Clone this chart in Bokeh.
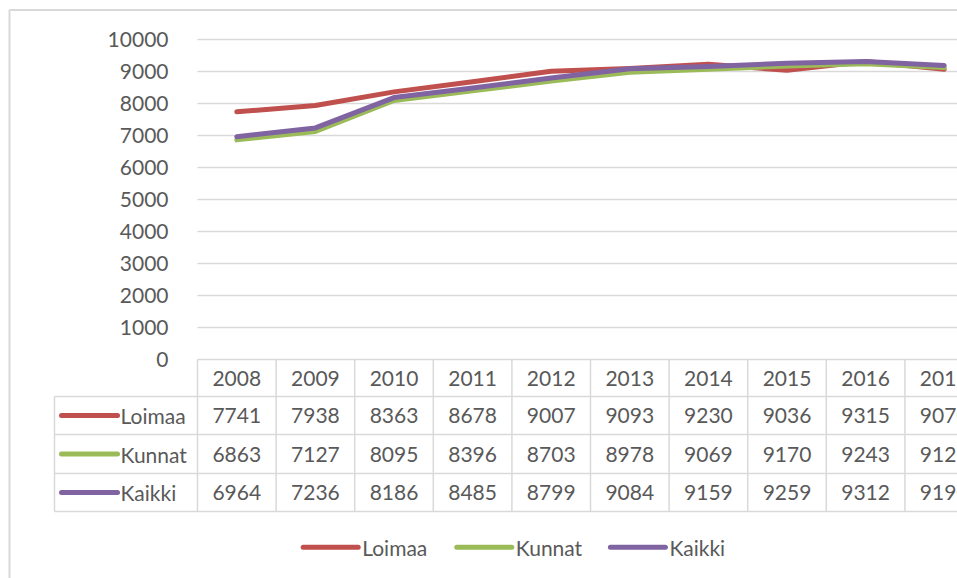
from bokeh.plotting import figure
from bokeh.models import Range1d, LinearAxis, FixedTicker, ColumnDataSource
from bokeh.core.properties import value
from bokeh.embed import file_html
from bokeh.resources import INLINE

# ---- data ----
years = [2008, 2009, 2010, 2011, 2012, 2013, 2014, 2015, 2016, 2017]
series_names = ["Loimaa", "Kunnat", "Kaikki"]
loimaa = [7741, 7938, 8363, 8678, 9007, 9093, 9230, 9036, 9315, 9070]
kunnat = [6863, 7127, 8095, 8396, 8703, 8978, 9069, 9170, 9243, 9121]
kaikki = [6964, 7236, 8186, 8485, 8799, 9084, 9159, 9259, 9312, 9190]
y_ticks = [0, 1000, 2000, 3000, 4000, 5000, 6000, 7000, 8000, 9000, 10000]
colors = ["#C0504D", "#9BBB59", "#8064A2"]
series_values = [loimaa, kunnat, kaikki]

# ---- layout constants (pixels, relative to figure top-left) ----
W, H = 957, 578
PX_PER_YEAR = 78.6
COL0_PX = 197            # left edge of the 2008 column
ZERO_PX = 359            # pixel row of value 0
PX_PER_UNIT = 0.032

x_start = (years[0] - 0.5) - COL0_PX / PX_PER_YEAR
x_end = x_start + W / PX_PER_YEAR
y_end = ZERO_PX / PX_PER_UNIT
y_start = -(H - ZERO_PX) / PX_PER_UNIT


def xpx(px):
    return x_start + px / PX_PER_YEAR


FONT = value("Lato")
FSIZE = "21px"
TCOL = "#595959"
GRID = "#d9d9d9"

p = figure(width=W, height=H, output_backend="svg", toolbar_location=None,
           x_range=Range1d(x_start, x_end), y_range=Range1d(y_start, y_end),
           x_axis_location=None, y_axis_location=None,
           min_border=0, min_border_left=0, min_border_right=0,
           min_border_top=0, min_border_bottom=0)
p.outline_line_color = None
p.background_fill_color = "white"
p.border_fill_color = "white"
for g in p.grid:
    g.visible = False
p.extra_y_ranges = {"tbl": Range1d(H, 0)}

col_left = years[0] - 0.5

# value axis
yax = LinearAxis(ticker=FixedTicker(ticks=y_ticks), fixed_location=col_left,
                 bounds=(y_ticks[0], y_ticks[-1]))
yax.axis_line_color = None
yax.major_tick_line_color = None
yax.minor_tick_line_color = None
yax.major_label_standoff = 23
yax.major_label_text_font = "Lato"
yax.major_label_text_font_size = FSIZE
yax.major_label_text_color = TCOL
p.add_layout(yax, "left")

# horizontal gridlines
p.segment(x0=[col_left] * len(y_ticks), x1=[x_end] * len(y_ticks),
          y0=y_ticks, y1=y_ticks, line_color=GRID, line_width=1.5)

# ---- table geometry ----
row_lines = [396, 434, 473, 511]          # horizontal lines below header/rows
header_top = ZERO_PX
row_centers = [415, 453.5, 492]
header_center = 377.5
label_col_left = xpx(54)

p.segment(x0=[label_col_left] * len(row_lines), x1=[x_end] * len(row_lines),
          y0=row_lines, y1=row_lines, y_range_name="tbl",
          line_color=GRID, line_width=1.5)
vx = [col_left + k for k in range(len(years) + 1)]
p.segment(x0=vx, x1=vx, y0=[header_top] * len(vx), y1=[row_lines[-1]] * len(vx),
          y_range_name="tbl", line_color=GRID, line_width=1.5)
p.segment(x0=[label_col_left], x1=[label_col_left], y0=[row_lines[0]],
          y1=[row_lines[-1]], y_range_name="tbl", line_color=GRID, line_width=1.5)

# outer chart border (left & top)
p.segment(x0=[xpx(9), xpx(9)], x1=[xpx(9), x_end], y0=[9.5, 9.5], y1=[H, 9.5],
          y_range_name="tbl", line_color=GRID, line_width=2)

# ---- lines ----
for name, vals, c in zip(series_names, series_values, colors):
    p.line(years, vals, line_color=c, line_width=5, line_join="round",
           line_cap="round")

# ---- table text ----
p.text(x=years, y=[header_center] * len(years), text=[str(y) for y in years],
       y_range_name="tbl", text_align="center", text_baseline="middle",
       text_font=FONT, text_font_size=FSIZE, text_color=TCOL)

for name, vals, c, rc in zip(series_names, series_values, colors, row_centers):
    src = ColumnDataSource(dict(x=years, y=[rc] * len(years),
                                t=[str(v) for v in vals]))
    p.text(x="x", y="y", text="t", source=src, y_range_name="tbl",
           text_align="center", text_baseline="middle",
           text_font=FONT, text_font_size=FSIZE, text_color=TCOL)
    # key line + label
    p.segment(x0=[xpx(61)], x1=[xpx(117)], y0=[rc], y1=[rc], y_range_name="tbl",
              line_color=c, line_width=5, line_cap="round")
    p.text(x=[xpx(120)], y=[rc], text=[name], y_range_name="tbl",
           text_align="left", text_baseline="middle",
           text_font=FONT, text_font_size=FSIZE, text_color=TCOL)

# ---- bottom legend ----
LEG_Y = 546.7
LEG_X0 = 302.7
LEG_PITCH = 153.6
for i, (name, c) in enumerate(zip(series_names, colors)):
    lx = LEG_X0 + i * LEG_PITCH
    p.segment(x0=[xpx(lx)], x1=[xpx(lx + 55)], y0=[LEG_Y], y1=[LEG_Y],
              y_range_name="tbl", line_color=c, line_width=5, line_cap="round")
    p.text(x=[xpx(lx + 59)], y=[LEG_Y], text=[name], y_range_name="tbl",
           text_align="left", text_baseline="middle",
           text_font=FONT, text_font_size=FSIZE, text_color=TCOL)

open("out.html", "w").write(file_html(p, INLINE))
